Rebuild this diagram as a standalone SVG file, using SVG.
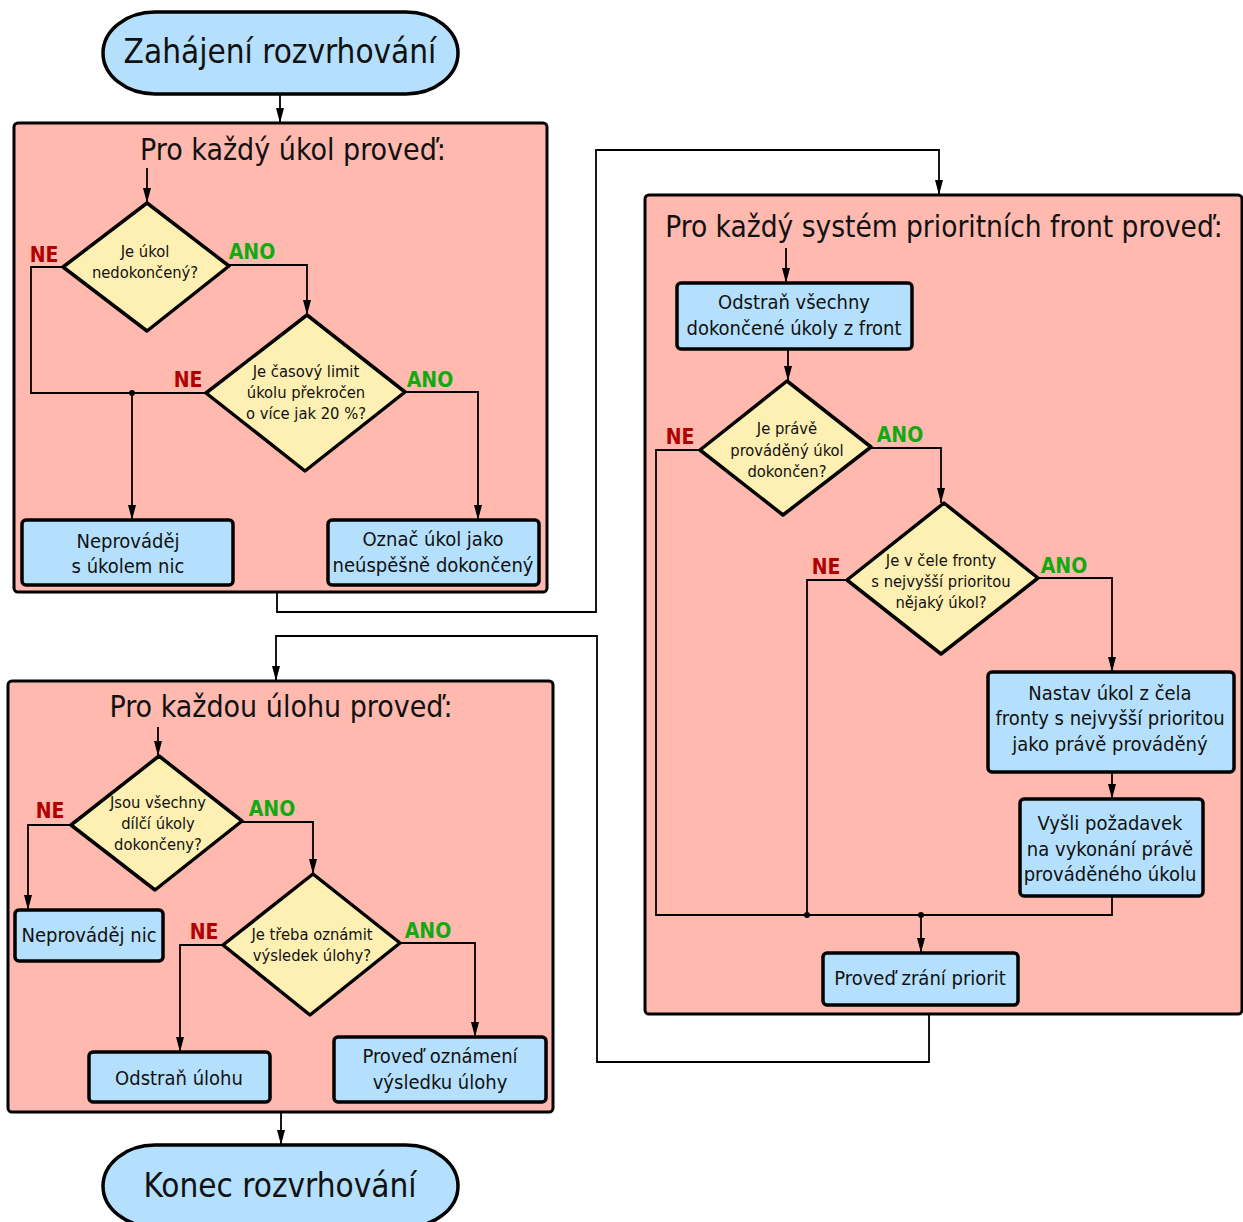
<svg xmlns="http://www.w3.org/2000/svg" width="1243" height="1222" viewBox="0 0 1243 1222">
  <style>
    text { font-family: "DejaVu Sans Condensed", "DejaVu Sans", sans-serif; font-stretch: condensed; fill: #111; text-anchor: middle; }
    .term { fill: #b4e0fd; stroke: #000; stroke-width: 3.5; }
    .panel { fill: #ffb9af; stroke: #000; stroke-width: 3; }
    .box { fill: #b4e0fd; stroke: #000; stroke-width: 3.5; }
    .dec { fill: #feefb2; stroke: #000; stroke-width: 3.5; stroke-linejoin: round; }
    .t-term { font-size: 33px; }
    .t-title { font-size: 30px; }
    .t-box { font-size: 20px; }
    .t-dec { font-size: 16.4px; }
    .ne { fill: #b00000; font-weight: bold; font-size: 21px; }
    .ano { fill: #11aa11; font-weight: bold; font-size: 21px; }
    .wire { fill: none; stroke: #000; stroke-width: 1.8; }
    .arrow { fill: none; stroke: #000; stroke-width: 1.8; marker-end: url(#head); }
    .dot { fill: #000; }
  </style>
  <defs>
    <marker id="head" markerUnits="userSpaceOnUse" markerWidth="16" markerHeight="10" refX="15" refY="5" orient="auto">
      <path d="M0,1 L15,5 L0,9 z" fill="#000"/>
    </marker>
  </defs>

  <!-- containers -->
  <g id="panel-ukoly">
    <rect class="panel" x="14" y="123" width="533" height="469" rx="4"/>
    <text class="t-title" x="293" y="160">Pro každý úkol proveď:</text>
  </g>
  <g id="panel-fronty">
    <rect class="panel" x="645" y="195" width="597" height="819" rx="4"/>
    <text class="t-title" x="944" y="237" style="font-size:29.5px">Pro každý systém prioritních front proveď:</text>
  </g>
  <g id="panel-ulohy">
    <rect class="panel" x="8" y="681" width="545" height="431" rx="4"/>
    <text class="t-title" x="281" y="717">Pro každou úlohu proveď:</text>
  </g>

  <!-- connectors -->
  <g id="connectors">
    <path class="arrow" d="M280,94 V123"/>
    <path class="arrow" d="M147,168 V203"/>
    <path class="arrow" d="M229,265 H307 V315"/>
    <path class="wire" d="M63,267 H31 V393 H206"/>
    <path class="arrow" d="M132,393 V520"/>
    <circle class="dot" cx="132" cy="393" r="3"/>
    <path class="arrow" d="M405,392 H478 V520"/>
    <path class="arrow" d="M277,592 V612 H596 V150 H939 V195"/>

    <path class="arrow" d="M786,248 V283"/>
    <path class="arrow" d="M788,349 V381"/>
    <path class="arrow" d="M871,448 H941 V503"/>
    <path class="wire" d="M700,450 H656 V915 H1112 V896"/>
    <path class="wire" d="M847,580 H807 V915"/>
    <path class="arrow" d="M1038,578 H1112 V672"/>
    <path class="arrow" d="M1112,772 V799"/>
    <circle class="dot" cx="807" cy="915" r="3"/>
    <circle class="dot" cx="921" cy="915" r="3"/>
    <path class="arrow" d="M921,915 V953"/>
    <path class="arrow" d="M929,1014 V1062 H597 V636 H276 V681"/>

    <path class="arrow" d="M158,727 V756"/>
    <path class="arrow" d="M71,825 H28 V910"/>
    <path class="arrow" d="M242,822 H313 V874"/>
    <path class="arrow" d="M223,945 H180 V1052"/>
    <path class="arrow" d="M400,943 H475 V1037"/>
    <path class="arrow" d="M281,1112 V1145"/>
  </g>

  <!-- start / end -->
  <g id="start">
    <rect class="term" x="103" y="12" width="355" height="82" rx="52" ry="41"/>
    <text class="t-term" x="280" y="63">Zahájení rozvrhování</text>
  </g>
  <g id="end">
    <rect class="term" x="103" y="1145" width="355" height="82" rx="52" ry="41"/>
    <text class="t-term" x="280" y="1197">Konec rozvrhování</text>
  </g>

  <!-- panel: tasks -->
  <g id="dec-nedokonceny">
    <path class="dec" d="M147,203 L229,266 L147,331 L63,267 Z"/>
    <text class="t-dec" x="145" y="257">Je úkol</text>
    <text class="t-dec" x="145" y="278">nedokončený?</text>
    <text class="ne" x="44" y="262">NE</text>
    <text class="ano" x="252" y="259">ANO</text>
  </g>
  <g id="dec-limit">
    <path class="dec" d="M307,315 L405,392 L305,471 L206,393 Z"/>
    <text class="t-dec" x="306" y="377">Je časový limit</text>
    <text class="t-dec" x="306" y="398">úkolu překročen</text>
    <text class="t-dec" x="306" y="419">o více jak 20 %?</text>
    <text class="ne" x="188" y="387">NE</text>
    <text class="ano" x="430" y="387">ANO</text>
  </g>
  <g id="box-neprovadej-ukol">
    <rect class="box" x="22" y="520" width="211" height="65" rx="4"/>
    <text class="t-box" x="128" y="548">Neprováděj</text>
    <text class="t-box" x="128" y="573">s úkolem nic</text>
  </g>
  <g id="box-oznac">
    <rect class="box" x="328" y="520" width="211" height="65" rx="4"/>
    <text class="t-box" x="433" y="546">Označ úkol jako</text>
    <text class="t-box" x="433" y="572">neúspěšně dokončený</text>
  </g>

  <!-- panel: priority queues -->
  <g id="box-odstran-fronty">
    <rect class="box" x="677" y="283" width="235" height="66" rx="4"/>
    <text class="t-box" x="794" y="309">Odstraň všechny</text>
    <text class="t-box" x="794" y="335">dokončené úkoly z front</text>
  </g>
  <g id="dec-dokoncen">
    <path class="dec" d="M787,381 L871,447 L783,515 L700,450 Z"/>
    <text class="t-dec" x="787" y="434">Je právě</text>
    <text class="t-dec" x="787" y="456">prováděný úkol</text>
    <text class="t-dec" x="787" y="477">dokončen?</text>
    <text class="ne" x="680" y="444">NE</text>
    <text class="ano" x="900" y="442">ANO</text>
  </g>
  <g id="dec-celo">
    <path class="dec" d="M944,503 L1038,578 L941,654 L847,580 Z"/>
    <text class="t-dec" x="941" y="566">Je v čele fronty</text>
    <text class="t-dec" x="941" y="587">s nejvyšší prioritou</text>
    <text class="t-dec" x="941" y="608">nějaký úkol?</text>
    <text class="ne" x="826" y="574">NE</text>
    <text class="ano" x="1064" y="573">ANO</text>
  </g>
  <g id="box-nastav">
    <rect class="box" x="988" y="672" width="246" height="100" rx="4"/>
    <text class="t-box" x="1110" y="700">Nastav úkol z čela</text>
    <text class="t-box" x="1110" y="725">fronty s nejvyšší prioritou</text>
    <text class="t-box" x="1110" y="751">jako právě prováděný</text>
  </g>
  <g id="box-vysli">
    <rect class="box" x="1020" y="799" width="183" height="97" rx="4"/>
    <text class="t-box" x="1110" y="830">Vyšli požadavek</text>
    <text class="t-box" x="1110" y="856">na vykonání právě</text>
    <text class="t-box" x="1110" y="881">prováděného úkolu</text>
  </g>
  <g id="box-zrani">
    <rect class="box" x="823" y="953" width="195" height="52" rx="4"/>
    <text class="t-box" x="920" y="985">Proveď zrání priorit</text>
  </g>

  <!-- panel: jobs -->
  <g id="dec-dilci">
    <path class="dec" d="M159,756 L242,821 L155,890 L71,825 Z"/>
    <text class="t-dec" x="158" y="808">Jsou všechny</text>
    <text class="t-dec" x="158" y="829">dílčí úkoly</text>
    <text class="t-dec" x="158" y="850">dokončeny?</text>
    <text class="ne" x="50" y="818">NE</text>
    <text class="ano" x="272" y="816">ANO</text>
  </g>
  <g id="box-neprovadej-nic">
    <rect class="box" x="15" y="910" width="148" height="51" rx="4"/>
    <text class="t-box" x="89" y="942">Neprováděj nic</text>
  </g>
  <g id="dec-oznamit">
    <path class="dec" d="M313,874 L400,943 L310,1015 L223,945 Z"/>
    <text class="t-dec" x="312" y="940">Je třeba oznámit</text>
    <text class="t-dec" x="312" y="961">výsledek úlohy?</text>
    <text class="ne" x="204" y="939">NE</text>
    <text class="ano" x="428" y="938">ANO</text>
  </g>
  <g id="box-odstran-ulohu">
    <rect class="box" x="89" y="1052" width="181" height="50" rx="4"/>
    <text class="t-box" x="179" y="1085">Odstraň úlohu</text>
  </g>
  <g id="box-oznameni">
    <rect class="box" x="334" y="1037" width="212" height="65" rx="4"/>
    <text class="t-box" x="440" y="1063">Proveď oznámení</text>
    <text class="t-box" x="440" y="1089">výsledku úlohy</text>
  </g>
</svg>
